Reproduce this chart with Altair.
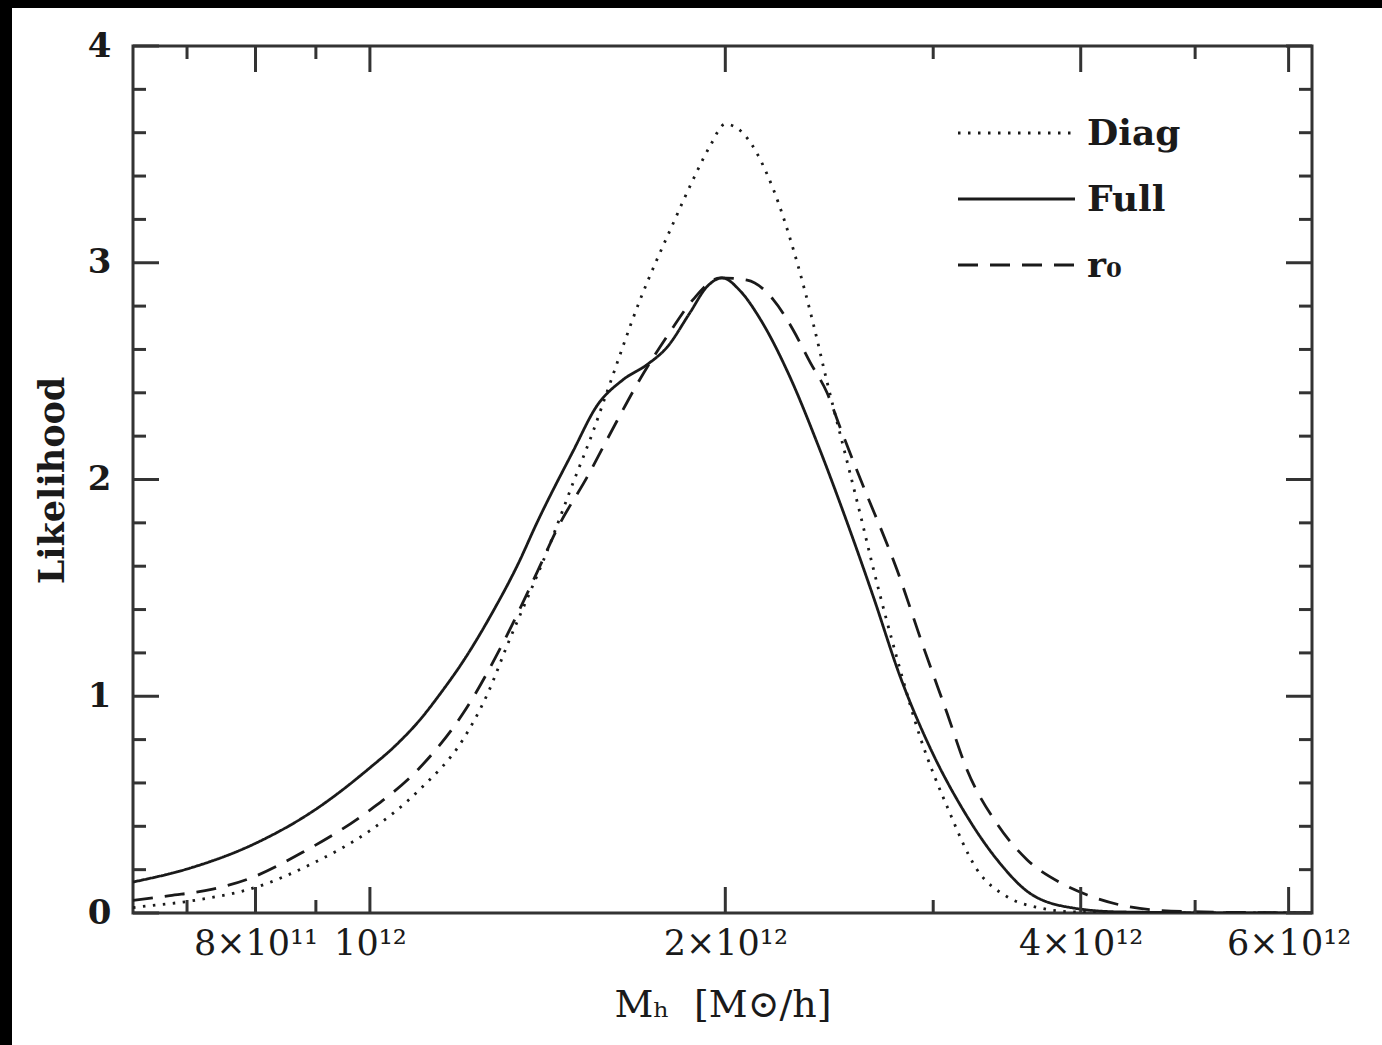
import altair as alt
import pandas as pd

# ---------------- data ----------------
SERIES = ["Diag", "Full", "r₀"]

FULL_M = [0.630e12, 0.704e12, 0.799e12, 0.895e12, 1.000e12, 1.050e12, 1.102e12, 1.150e12,
          1.199e12, 1.271e12, 1.335e12, 1.385e12, 1.486e12, 1.557e12, 1.638e12, 1.717e12,
          1.785e12, 1.867e12, 1.930e12, 1.988e12, 2.059e12, 2.141e12, 2.270e12, 2.392e12,
          2.537e12, 2.669e12, 2.813e12, 2.983e12, 3.181e12, 3.399e12, 3.625e12,
          3.943e12, 4.321e12, 5.570e12, 6.300e12]
FULL_L = [0.143, 0.207, 0.32, 0.47, 0.67, 0.77, 0.89, 1.02,
          1.16, 1.39, 1.61, 1.80, 2.13, 2.34, 2.46, 2.53,
          2.61, 2.77, 2.89, 2.93, 2.87, 2.74, 2.47, 2.17,
          1.80, 1.46, 1.09, 0.76, 0.475, 0.245, 0.09,
          0.023, 0.005, 0.0, 0.0]

DIAG_M = [0.630e12, 0.642e12, 0.714e12, 0.802e12, 0.895e12, 1.000e12, 1.102e12, 1.199e12,
          1.260e12, 1.306e12, 1.413e12, 1.490e12, 1.545e12, 1.580e12, 1.694e12, 1.806e12,
          1.892e12, 1.942e12, 2.000e12, 2.059e12, 2.196e12, 2.301e12, 2.374e12, 2.439e12,
          2.537e12, 2.602e12, 2.669e12, 2.797e12, 2.925e12, 3.083e12, 3.268e12, 3.465e12,
          3.697e12, 3.943e12, 5.000e12, 6.300e12]
DIAG_L = [0.025, 0.03, 0.06, 0.12, 0.23, 0.38, 0.57, 0.80,
          1.02, 1.23, 1.67, 2.00, 2.22, 2.37, 2.83, 3.18,
          3.42, 3.54, 3.64, 3.61, 3.34, 3.00, 2.72, 2.45,
          2.08, 1.84, 1.59, 1.17, 0.81, 0.49, 0.20, 0.075,
          0.023, 0.005, 0.0, 0.0]

R0_M = [0.630e12, 0.677e12, 0.736e12, 0.787e12, 0.877e12, 1.000e12, 1.102e12, 1.199e12,
        1.306e12, 1.385e12, 1.440e12, 1.527e12, 1.619e12, 1.684e12, 1.795e12, 1.878e12,
        1.980e12, 2.087e12, 2.196e12, 2.283e12, 2.360e12, 2.439e12, 2.502e12, 2.586e12,
        2.617e12, 2.797e12, 2.942e12, 3.083e12, 3.205e12, 3.399e12, 3.604e12, 3.843e12,
        4.052e12, 4.321e12, 4.609e12, 5.080e12, 5.600e12, 6.300e12]
R0_L = [0.058, 0.08, 0.11, 0.155, 0.28, 0.475, 0.67, 0.92,
        1.28, 1.57, 1.77, 2.01, 2.27, 2.44, 2.68, 2.83,
        2.93, 2.92, 2.83, 2.69, 2.54, 2.40, 2.24, 2.04,
        1.97, 1.58, 1.23, 0.92, 0.66, 0.41, 0.245, 0.14,
        0.083, 0.037, 0.014, 0.005, 0.002, 0.0]

X_MAJOR = [8e11, 1e12, 2e12, 4e12, 6e12]
X_LABELS = ["8×10¹¹", "10¹²", "2×10¹²", "4×10¹²", "6×10¹²"]
X_MINOR = [7e11, 9e11, 3e12, 5e12]
Y_MAJOR = [0, 1, 2, 3, 4]
Y_MINOR = [0.2, 0.4, 0.6, 0.8, 1.2, 1.4, 1.6, 1.8, 2.2, 2.4, 2.6, 2.8,
           3.2, 3.4, 3.6, 3.8]

X_TITLE = "Mₕ\u00a0\u00a0[M⊙/h]"
Y_TITLE = "Likelihood"

# ---------------- build ----------------
rows = []
for name, ms, ls in [("Diag", DIAG_M, DIAG_L), ("Full", FULL_M, FULL_L), ("r₀", R0_M, R0_L)]:
    for m, l in zip(ms, ls):
        rows.append({"m": m, "L": l, "series": name})
df = pd.DataFrame(rows)

W, H = 1179, 867
INK = "#1a1a1a"
FRAME = "#333333"
FONT = "DejaVu Serif"
LW = 2.8

xscale = alt.Scale(type="log", domain=[6.3e11, 6.28e12], nice=False)
yscale = alt.Scale(domain=[0, 4], nice=False)
dash_scale = alt.Scale(domain=SERIES, range=[[2.5, 7.5], [1, 0], [20, 12]])

# label expression built from the label lists
expr = "'" + X_LABELS[-1] + "'"
for v, lab in reversed(list(zip(X_MAJOR[:-1], X_LABELS[:-1]))):
    expr = f"datum.value < {v * 1.05} ? '{lab}' : " + expr

lines = alt.Chart(df).mark_line(clip=True, strokeWidth=LW, color=INK, strokeCap="butt",
                                interpolate="monotone").encode(
    x=alt.X("m:Q", scale=xscale,
            axis=alt.Axis(values=X_MAJOR, labelExpr=expr, tickSize=0, domain=False, grid=False,
                          labelFont=FONT, labelFontSize=35, labelColor=INK, labelPadding=13,
                          labelOverlap=False, labelFlush=False, labelBound=False,
                          title=X_TITLE, titleFont=FONT, titleFontSize=38, titleFontWeight="normal",
                          titleColor=INK, titleY=92, titleBaseline="middle")),
    y=alt.Y("L:Q", scale=yscale,
            axis=alt.Axis(values=Y_MAJOR, format="d", tickSize=0, domain=False, grid=False,
                          labelFont=FONT, labelFontSize=34, labelFontWeight="bold", labelColor=INK,
                          labelPadding=22, labelOverlap=False, labelFlush=False,
                          title=Y_TITLE, titleFont=FONT, titleFontSize=35, titleFontWeight="bold",
                          titleColor=INK, titleX=-81, titleY=434, titleBaseline="middle")),
    strokeDash=alt.StrokeDash("series:N", scale=dash_scale, legend=None),
    order=alt.Order("m:Q"),
)

def xticks(vals, length, top):
    d = pd.DataFrame({"m": vals})
    if top:
        yy, yy2 = alt.value(0), alt.value(length)
    else:
        yy, yy2 = alt.value(H), alt.value(H - length)
    return alt.Chart(d).mark_rule(color=FRAME, strokeWidth=3).encode(
        x=alt.X("m:Q", scale=xscale), y=yy, y2=yy2)

def yticks(vals, length, right):
    d = pd.DataFrame({"L": vals})
    if right:
        xx, xx2 = alt.value(W), alt.value(W - length)
    else:
        xx, xx2 = alt.value(0), alt.value(length)
    return alt.Chart(d).mark_rule(color=FRAME, strokeWidth=3).encode(
        y=alt.Y("L:Q", scale=yscale), x=xx, x2=xx2)

MAJ, MIN = 26, 13
tick_layers = [
    xticks(X_MAJOR, MAJ, False), xticks(X_MINOR, MIN, False),
    xticks(X_MAJOR, MAJ, True), xticks(X_MINOR, MIN, True),
    yticks(Y_MAJOR, MAJ, False), yticks(Y_MINOR, MIN, False),
    yticks(Y_MAJOR, MAJ, True), yticks(Y_MINOR, MIN, True),
]

main = alt.layer(lines, *tick_layers)

# key (drawn as its own small layer)
key_df = pd.DataFrame({"series": SERIES})
key_y = alt.Y("series:N", scale=alt.Scale(type="point", domain=SERIES, range=[87, 219], padding=0),
              axis=None)
key_lines = alt.Chart(key_df).mark_rule(strokeWidth=LW, color=INK, strokeCap="butt").encode(
    x=alt.value(825), x2=alt.value(942), y=key_y,
    strokeDash=alt.StrokeDash("series:N", scale=dash_scale, legend=None))
key_text = alt.Chart(key_df).mark_text(align="left", baseline="middle", font=FONT, fontSize=36,
                                       fontWeight="bold", color=INK, dy=1).encode(
    x=alt.value(954), y=key_y, text="series:N")
key = alt.layer(key_lines, key_text)

one = pd.DataFrame({"k": [0]})
black_left = alt.Chart(one).mark_rect(color="black").encode(
    x=alt.value(-133), x2=alt.value(-121), y=alt.value(-46), y2=alt.value(1000))
black_top = alt.Chart(one).mark_rect(color="black").encode(
    x=alt.value(-133), x2=alt.value(1250), y=alt.value(-46), y2=alt.value(-38))

chart = alt.layer(black_left, black_top, main, key).resolve_scale(
    y="independent"
).properties(
    width=W, height=H,
    padding={"left": 133, "top": 46, "right": 70, "bottom": 132},
    autosize=alt.AutoSizeParams(type="none"),
    background="white",
).configure_view(stroke=FRAME, strokeWidth=3, fill="white")

chart.save("out.html", embed_options={"renderer": "svg", "actions": False})
